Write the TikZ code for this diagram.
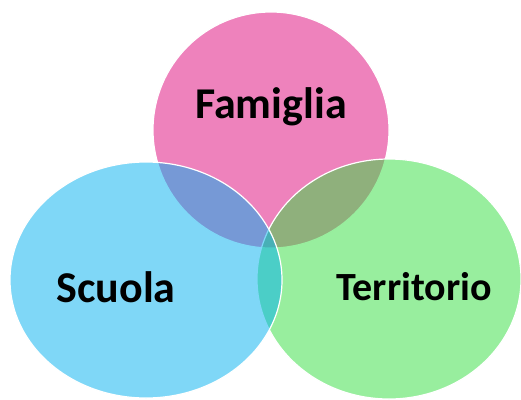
\documentclass[tikz,border=0pt]{standalone}
\usepackage{fontspec}
\setmainfont{Carlito}
\definecolor{pinkc}{RGB}{222,6,122}
\definecolor{bluec}{RGB}{0,176,240}
\definecolor{greenc}{RGB}{50,222,62}
\tikzset{
  setshape/.style={fill opacity=0.5, draw=white, draw opacity=1, line width=1.2pt},
  setlabel/.style={anchor=base, font=\bfseries\fontsize{44}{48}\selectfont, text=black, inner sep=0pt}
}
\begin{document}
\begin{tikzpicture}[x=1pt,y=-1pt]
\useasboundingbox (0,0) rectangle (521,399);
\fill[white] (0,0) rectangle (521,399);
\path[setshape, fill=pinkc] (271,130) ellipse [x radius=118, y radius=118];
\path[setshape, fill=greenc] (389,279) ellipse [x radius=132, y radius=120];
\path[setshape, fill=bluec] (146,280) ellipse [x radius=136, y radius=118];
\node[setlabel] (fam) at (271,118) {Famiglia};
\node[setlabel] (scu) at (116,302) {Scuola};
\node[setlabel, font=\bfseries\fontsize{40}{44}\selectfont] (ter) at (414,300) {Territorio};
\end{tikzpicture}
\end{document}
